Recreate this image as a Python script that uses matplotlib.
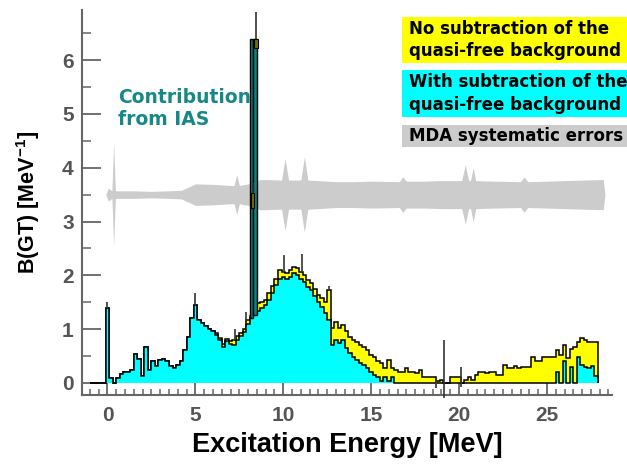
import numpy as np
import matplotlib
matplotlib.use('Agg')
import matplotlib.pyplot as plt
from matplotlib.patches import Rectangle
from matplotlib.ticker import MultipleLocator

plt.rcParams['mathtext.fontset'] = 'custom'
plt.rcParams['mathtext.bf'] = 'Liberation Sans:bold'
plt.rcParams['mathtext.rm'] = 'Liberation Sans:bold'

# 0.2 MeV bins centred on 0.0, 0.2, ... 27.8 (plus an empty bin from -1.0)
bin_width = 0.2
n_bins = 140
edges = np.concatenate([[-1.0], -0.1 + bin_width * np.arange(n_bins + 1)])

# with subtraction of the quasi-free background (cyan)
cyan_vals = [
    1.39, 0.10, 0.00, 0.10, 0.16, 0.20, 0.20, 0.24, 0.53, 0.45,
    0.13, 0.66, 0.24, 0.40, 0.32, 0.43, 0.44, 0.40, 0.32, 0.27,
    0.33, 0.40, 0.61, 0.85, 1.20, 1.45, 1.17, 1.12, 1.06, 1.00,
    0.97, 0.89, 0.80, 0.67, 0.78, 0.72, 0.70, 0.80, 0.88, 0.95,
    1.10, 1.20, 1.26, 1.33, 1.39, 1.45, 1.54, 1.67, 1.82, 1.94,
    1.97, 1.94, 1.97, 2.04, 2.01, 1.94, 1.88, 1.79, 1.73, 1.62,
    1.51, 1.42, 1.30, 1.17, 0.71, 0.80, 0.74, 0.80, 0.65, 0.55,
    0.49, 0.43, 0.37, 0.34, 0.27, 0.21, 0.15, 0.12, 0.03, 0.12,
    0.03, 0.12, 0.00, 0.00, 0.00, 0.00, 0.00, 0.00, 0.00, 0.00,
    0.00, 0.00, 0.00, 0.00, 0.00, 0.00, 0.00, 0.00, 0.00, 0.00,
    0.00, 0.00, 0.00, 0.00, 0.00, 0.00, 0.00, 0.00, 0.00, 0.00,
    0.00, 0.00, 0.00, 0.00, 0.00, 0.00, 0.00, 0.00, 0.00, 0.00,
    0.00, 0.00, 0.00, 0.00, 0.00, 0.00, 0.00, 0.00, 0.20, 0.00,
    0.40, 0.00, 0.30, 0.00, 0.49, 0.34, 0.30, 0.27, 0.32, 0.13,
]

# no subtraction of the quasi-free background (yellow)
yellow_vals = cyan_vals[:30] + [
    0.97, 0.92, 0.83, 0.73, 0.82, 0.78, 0.80, 0.88, 0.93, 1.00,
    1.17, 1.25, 1.40, 1.48, 1.50, 1.54, 1.67, 1.80, 1.94, 2.10,
    2.07, 2.04, 2.10, 2.16, 2.13, 2.07, 2.01, 1.91, 1.85, 1.75,
    1.63, 1.57, 1.51, 1.72, 1.02, 1.14, 1.02, 1.08, 0.96, 0.86,
    0.80, 0.77, 0.71, 0.67, 0.61, 0.52, 0.49, 0.40, 0.37, 0.27,
    0.43, 0.27, 0.24, 0.21, 0.21, 0.27, 0.21, 0.21, 0.18, 0.24,
    0.12, 0.12, 0.12, 0.12, 0.03, 0.06, 0.00, 0.00, 0.12, 0.12,
    0.12, 0.00, 0.06, 0.12, 0.05, 0.15, 0.21, 0.21, 0.18, 0.21,
    0.21, 0.15, 0.15, 0.34, 0.27, 0.27, 0.32, 0.27, 0.30, 0.30,
    0.30, 0.49, 0.40, 0.40, 0.49, 0.49, 0.49, 0.49, 0.61, 0.52,
    0.71, 0.46, 0.64, 0.67, 0.77, 0.83, 0.80, 0.77, 0.77, 0.77,
]

# IAS contribution (two bins at 8.2 and 8.4 MeV)
ias_centers = [8.2, 8.4]
ias_top = [6.4, 6.4]
ias_base = [1.20, 1.26]
ias_box_left = [8.17, 8.36]
ias_box_right = [8.36, 8.55]
ias_box_lo = [3.25, 6.23]
ias_box_hi = [3.53, 6.40]

# a few visible error bars
err_E = [0.0, 4.96, 7.27, 7.9, 10.06, 11.07, 12.6, 18.7, 19.13, 20.1, 8.27, 8.43]
err_lo = [1.39, 1.45, 0.80, 1.10, 2.07, 2.07, 1.72, -0.10, -0.28, -0.07, 3.53, 6.40]
err_hi = [1.50, 1.67, 1.00, 1.31, 2.38, 2.40, 1.80, 0.06, 0.80, 0.30, 3.72, 6.90]

# MDA systematic error band (centre and half width)
band_center = 3.5
band_E = [-0.1, 0.05, 0.25, 0.35, 0.45, 0.6, 1.5, 2.5, 3.5, 4.2, 5.0, 6.0, 7.0, 7.2,
          7.35, 7.5, 8.0, 8.25, 8.38, 8.5, 8.7, 9.0, 9.9, 10.1, 10.3, 11.0, 11.2,
          11.4, 12.0, 13.0, 14.0, 15.0, 16.6, 16.8, 17.0, 18.0, 19.0, 20.15, 20.35,
          20.55, 20.65, 20.8, 20.95, 22.0, 23.5, 23.7, 23.9, 25.0, 27.0, 28.2, 28.3]
band_hw = [0.0, 0.12, 0.07, 0.95, 0.07, 0.07, 0.07, 0.06, 0.07, 0.08, 0.20, 0.19, 0.17, 0.17,
           0.37, 0.17, 0.20, 0.22, 0.55, 0.26, 0.28, 0.28, 0.27, 0.67, 0.27, 0.27, 0.70,
           0.27, 0.26, 0.24, 0.24, 0.25, 0.24, 0.33, 0.25, 0.25, 0.26, 0.26, 0.55,
           0.26, 0.26, 0.50, 0.26, 0.25, 0.24, 0.33, 0.24, 0.25, 0.27, 0.28, 0.0]

W, H = 627, 465
fig = plt.figure(figsize=(W / 100, H / 100), dpi=100)
ax = fig.add_axes([82 / W, 1 - 395 / H, (612 - 82) / W, (395 - 10) / H])

be = np.array(band_E)
bh = np.array(band_hw)
ax.fill_between(be, band_center - bh, band_center + bh, color='#cccccc', lw=0, zorder=1)

ax.stairs([0.0] + yellow_vals, edges, fill=True, color='yellow', zorder=2)
ax.stairs([0.0] + yellow_vals, edges, color='black', lw=1.1, zorder=3)
ax.stairs([0.0] + cyan_vals, edges, fill=True, color='cyan', zorder=4)
ax.stairs([0.0] + cyan_vals, edges, color='black', lw=1.1, zorder=5)

ax.bar(ias_centers, np.array(ias_top) - np.array(ias_base), bottom=ias_base, width=bin_width,
       color='#108080', edgecolor='black', lw=1.0, zorder=6)
for l, r, lo, hi in zip(ias_box_left, ias_box_right, ias_box_lo, ias_box_hi):
    ax.add_patch(Rectangle((l, lo), r - l, hi - lo, facecolor='#707000', edgecolor='black',
                           lw=0.8, zorder=7))

ax.vlines(err_E, err_lo, err_hi, color='#333333', lw=1.2, zorder=8, clip_on=False)

ax.set_xlim(-1.45, 28.7)
ax.set_ylim(-0.223, 6.93)

for s in ['top', 'right']:
    ax.spines[s].set_visible(False)
for s in ['left', 'bottom']:
    ax.spines[s].set_color('#666666')
    ax.spines[s].set_linewidth(1.5)

ax.xaxis.set_major_locator(MultipleLocator(5))
ax.xaxis.set_minor_locator(MultipleLocator(0.5))
ax.yaxis.set_major_locator(MultipleLocator(1))
ax.yaxis.set_minor_locator(MultipleLocator(0.5))
ax.tick_params(axis='x', which='major', direction='in', length=10, width=1.3, color='#666666',
               pad=8, labelsize=15, labelcolor='#555555')
ax.tick_params(axis='x', which='minor', direction='in', length=4, width=1.1, color='#666666')
ax.tick_params(axis='y', which='major', direction='in', length=14, width=1.3, color='#666666',
               pad=6, labelsize=15, labelcolor='#555555')
ax.tick_params(axis='y', which='minor', direction='in', length=6.5, width=1.1, color='#666666')
for lab in ax.get_xticklabels() + ax.get_yticklabels():
    lab.set_fontfamily('Liberation Sans')
    lab.set_fontweight('bold')

ax.set_xlabel('Excitation Energy [MeV]', fontsize=19.5, fontweight='bold',
              family='Liberation Sans', labelpad=5)
ax.set_ylabel(r'B(GT) [MeV$^{\mathbf{-1}}$]', fontsize=15.5, fontweight='bold',
              family='Liberation Sans', labelpad=14)

ax.text(0.6, 5.3, 'Contribution', color='#178888', fontsize=13.5, fontweight='bold', va='center')
ax.text(0.6, 4.9, 'from IAS', color='#178888', fontsize=13.5, fontweight='bold', va='center')

# legend boxes (figure pixels)
legend_boxes = [
    ('yellow', 17, 63, ['No subtraction of the', 'quasi-free background']),
    ('cyan', 70, 117, ['With subtraction of the', 'quasi-free background']),
    ('#cccccc', 125, 147, ['MDA systematic errors']),
]
for col, y0, y1, lines in legend_boxes:
    fig.patches.append(Rectangle((402 / W, 1 - y1 / H), (W - 402) / W, (y1 - y0) / H,
                                 transform=fig.transFigure, facecolor=col, edgecolor='none'))
    n = len(lines)
    for i, t in enumerate(lines):
        yc = y0 + (y1 - y0) * (i + 0.5) / n
        fig.text(409 / W, 1 - yc / H, t, fontsize=12, fontweight='bold', va='center', ha='left')

fig.savefig('out.png', dpi=100)
